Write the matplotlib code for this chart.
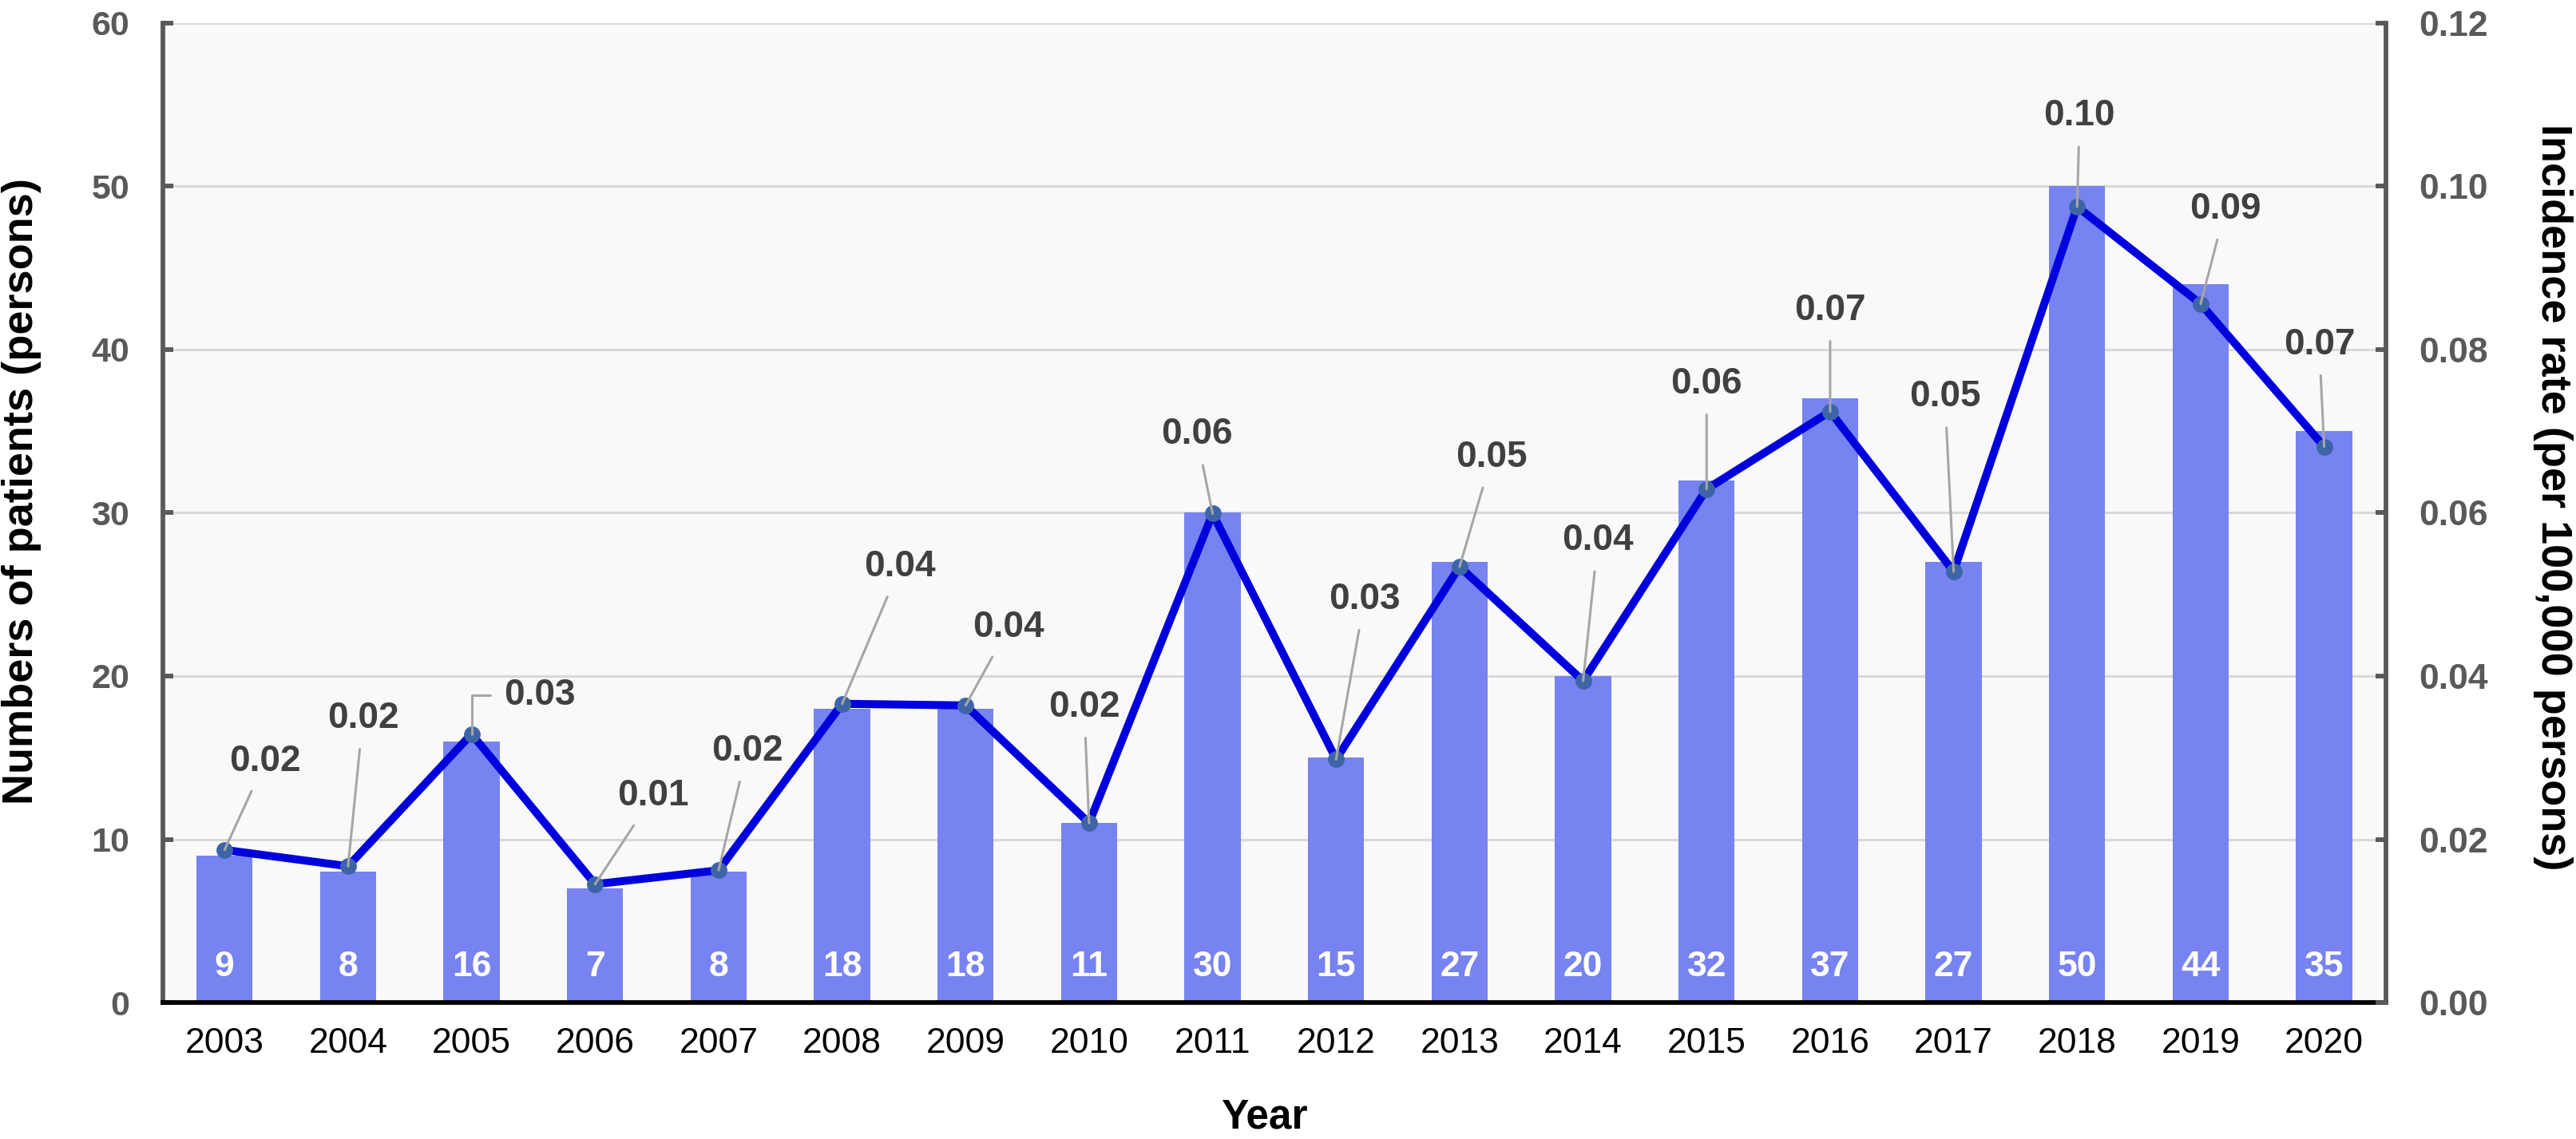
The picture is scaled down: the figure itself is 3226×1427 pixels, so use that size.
import matplotlib
matplotlib.use("Agg")
import matplotlib.pyplot as plt
import numpy as np

plt.rcParams['font.family'] = ['Liberation Sans', 'DejaVu Sans']

years = ['2003', '2004', '2005', '2006', '2007', '2008', '2009', '2010', '2011',
         '2012', '2013', '2014', '2015', '2016', '2017', '2018', '2019', '2020']
patients = [9, 8, 16, 7, 8, 18, 18, 11, 30, 15, 27, 20, 32, 37, 27, 50, 44, 35]
rate = [0.0187, 0.0167, 0.0329, 0.0145, 0.0162, 0.0366, 0.0364, 0.0220, 0.0599,
        0.0298, 0.0534, 0.0394, 0.0629, 0.0724, 0.0528, 0.0975, 0.0856, 0.0681]

# label placement offsets (x in categories, y in patient-axis units)
label_dx = [0.33, 0.12, 0.55, 0.47, 0.23, 0.47, 0.35, -0.04, -0.13,
            0.23, 0.26, 0.12, 0.0, 0.0, -0.07, 0.02, 0.2, -0.04]
label_dy = [5.44, 9.06, 2.37, 5.4, 7.3, 8.4, 4.8, 7.1, 4.85,
            9.8, 6.7, 8.6, 6.45, 6.2, 10.7, 5.55, 5.8, 6.25]

BAR = '#7783F0'
LINE = '#0000DD'
MARK = '#3E64A8'
GRAY = '#595959'
LABEL = '#404040'

fig = plt.figure(figsize=(16.13, 7.135), dpi=200)
ax = fig.add_axes([0.0632, 0.1198, 0.863, 0.860])
ax.set_facecolor('#F9F9F9')
x = np.arange(len(years))

ax.bar(x, patients, width=0.455, color=BAR, zorder=2)
for xi, v in zip(x, patients):
    ax.text(xi, 2.2, str(v), ha='center', va='center', color='white',
            fontsize=16, fontweight='bold', zorder=3)

ax.set_xlim(-0.5, len(years) - 0.5)
ax.set_ylim(0, 60)
ax.set_yticks(np.arange(0, 61, 10))
ax.set_xticks(x)
ax.set_xticklabels(years)
ax.yaxis.grid(True, color='#D9D9D9', linewidth=1.1, zorder=0)
ax.set_axisbelow(True)

ax.spines['top'].set_visible(False)
ax.spines['right'].set_visible(False)
ax.spines['left'].set_color(GRAY)
ax.spines['left'].set_linewidth(2.1)
ax.spines['bottom'].set_color('black')
ax.spines['bottom'].set_linewidth(2.1)

ax.tick_params(axis='x', length=0, pad=11, labelsize=16, labelcolor='black')
ax.tick_params(axis='y', direction='in', length=4.6, width=2.1, color=GRAY,
               pad=15, labelsize=15.5, labelcolor=GRAY)
for t in ax.get_yticklabels():
    t.set_fontweight('bold')

ylab = ax.set_ylabel('Numbers of patients (persons)', fontsize=19.5,
                     fontweight='bold')
ylab.set_va('center')
ax.yaxis.set_label_coords(-0.0635, 0.522)
fig.text(0.4907, 0.002, 'Year', ha='center', va='bottom',
         fontsize=18.5, fontweight='bold')

ax2 = ax.twinx()
ax2.set_ylim(0, 0.12)
ax2.set_yticks(np.arange(0, 0.121, 0.02))
ax2.set_yticklabels([f'{v:.2f}' for v in np.arange(0, 0.121, 0.02)])
ax2.spines['top'].set_visible(False)
ax2.spines['left'].set_visible(False)
ax2.spines['bottom'].set_visible(False)
ax2.spines['right'].set_color(GRAY)
ax2.spines['right'].set_linewidth(2.1)
ax2.tick_params(axis='y', direction='in', length=4.6, width=2.1, color=GRAY,
                pad=15, labelsize=16, labelcolor=GRAY)
for t in ax2.get_yticklabels():
    t.set_fontweight('bold')
ax2.set_ylabel('Incidence rate (per 100,000 persons)', fontsize=19.5,
               fontweight='bold', rotation=270, va='center')
ax2.yaxis.set_label_coords(1.0751, 0.516)

ax2.plot(x, rate, color=LINE, linewidth=3.6, zorder=4)
ax2.plot(x, rate, linestyle='none', marker='o', markersize=6.5,
         color=MARK, zorder=5)

scale = 0.12 / 60.0
for i, (xi, v) in enumerate(zip(x, rate)):
    tx = xi + label_dx[i]
    ty = v + label_dy[i] * scale
    if i == 2:
        arrow = dict(arrowstyle='-', color='#A6A6A6', lw=1.1,
                     connectionstyle='angle,angleA=0,angleB=90,rad=0',
                     relpos=(0.0, 0.5), shrinkA=4, shrinkB=0)
    else:
        arrow = dict(arrowstyle='-', color='#A6A6A6', lw=1.1,
                     shrinkA=4, shrinkB=0)
    ax2.annotate(f'{v:.2f}', xy=(xi, v), xytext=(tx, ty),
                 textcoords='data', ha='center', va='center',
                 fontsize=16.5, fontweight='bold', color=LABEL,
                 arrowprops=arrow, zorder=6)

fig.savefig('out.png', dpi=200)
